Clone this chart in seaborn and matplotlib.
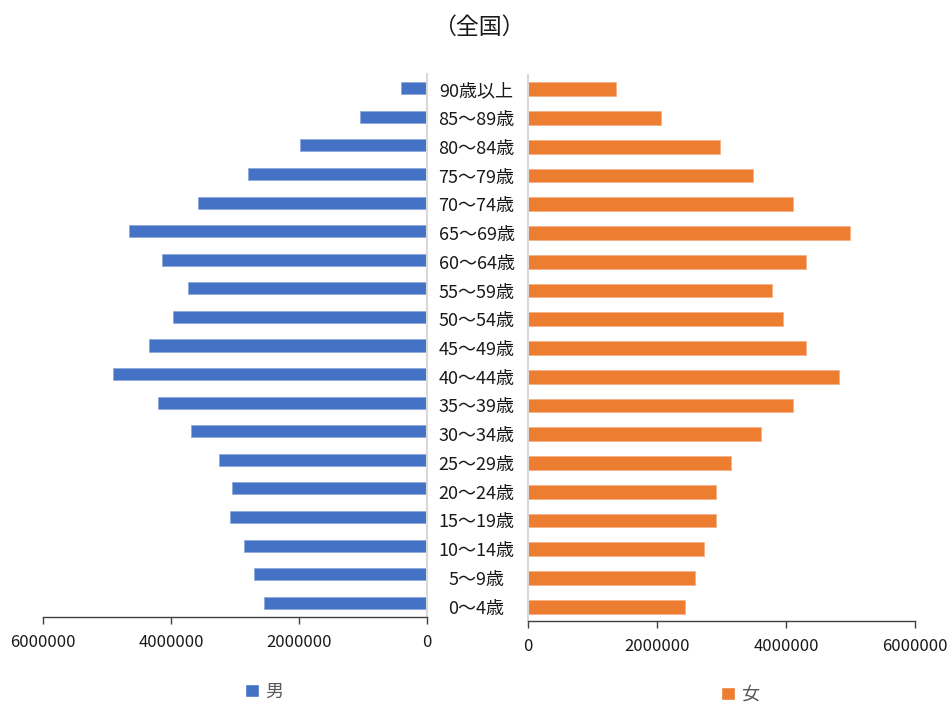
import matplotlib
matplotlib.use("Agg")
import matplotlib.pyplot as plt
from matplotlib.patches import Patch
from matplotlib.ticker import FuncFormatter
import seaborn as sns

sns.set_style("white")
plt.rcParams["font.family"] = ["Noto Sans CJK JP", "DejaVu Sans"]

# Age groups, oldest first (top of the pyramid)
ages = ["90歳以上", "85〜89歳", "80〜84歳", "75〜79歳", "70〜74歳", "65〜69歳",
        "60〜64歳", "55〜59歳", "50〜54歳", "45〜49歳", "40〜44歳", "35〜39歳",
        "30〜34歳", "25〜29歳", "20〜24歳", "15〜19歳", "10〜14歳", "5〜9歳", "0〜4歳"]

# Population by sex
male = [410000, 1050000, 1990000, 2790000, 3580000, 4660000, 4140000, 3730000,
        3970000, 4350000, 4910000, 4200000, 3680000, 3250000, 3040000, 3080000,
        2860000, 2710000, 2550000]
female = [1360000, 2060000, 2970000, 3490000, 4110000, 4990000, 4310000, 3790000,
          3960000, 4310000, 4820000, 4110000, 3610000, 3150000, 2920000, 2920000,
          2730000, 2590000, 2430000]

xticks = [0, 2000000, 4000000, 6000000]
title = "（全国）"
legend_male = "男"
legend_female = "女"

blue = "#4472C4"
orange = "#ED7D31"
W, H = 952, 704

fig = plt.figure(figsize=(W / 100, H / 100), dpi=100)
axL = fig.add_axes([43 / W, 1 - 617 / H, 384 / W, (617 - 74) / H])
axR = fig.add_axes([528 / W, 1 - 621 / H, 387 / W, (621 - 75) / H])

sns.barplot(x=male, y=ages, ax=axL, color=blue, saturation=1, width=0.42,
            orient="h", edgecolor="#8FAADC", linewidth=0.6)
sns.barplot(x=female, y=ages, ax=axR, color=orange, saturation=1, width=0.48,
            orient="h", edgecolor="#F4B183", linewidth=0.6)

fmt = FuncFormatter(lambda v, p: f"{v:.0f}")
for ax in (axL, axR):
    ax.set_xlabel("")
    ax.set_ylabel("")
    ax.set_ylim(len(ages) - 0.5, -0.5)
    ax.set_xticks(xticks)
    ax.xaxis.set_major_formatter(fmt)
    ax.tick_params(axis="x", direction="out", length=5, width=1, color="#404040",
                   pad=7, labelsize=12, labelcolor="#1a1a1a", bottom=True)
    ax.spines["top"].set_visible(False)
    ax.spines["bottom"].set_color("#404040")
    ax.spines["bottom"].set_linewidth(1)
    ax.grid(False)

axL.set_xlim(6000000, 0)
axR.set_xlim(0, 6000000)

axL.spines["left"].set_visible(False)
axL.spines["right"].set_color("#d9d9d9")
axL.spines["right"].set_linewidth(1.5)
axL.tick_params(axis="y", left=False, labelleft=False)

axR.spines["right"].set_visible(False)
axR.spines["left"].set_color("#d9d9d9")
axR.spines["left"].set_linewidth(1.5)
axR.tick_params(axis="y", left=False, length=0, pad=37, labelsize=13,
                labelcolor="#1a1a1a")
for lbl in axR.get_yticklabels():
    lbl.set_horizontalalignment("center")

fig.text(479 / W, 1 - 27 / H, title, ha="center", va="center", fontsize=16.5,
         color="#1a1a1a")

legend_kw = dict(loc="center", bbox_transform=fig.transFigure, frameon=False,
                 handlelength=0.75, handleheight=0.75, handletextpad=0.35,
                 fontsize=13, labelcolor="#595959")
axL.legend(handles=[Patch(facecolor=blue, label=legend_male)],
           bbox_to_anchor=(264 / W, 1 - 692 / H), **legend_kw)
axR.legend(handles=[Patch(facecolor=orange, label=legend_female)],
           bbox_to_anchor=(740 / W, 1 - 695 / H), **legend_kw)

fig.savefig("out.png", dpi=100)
